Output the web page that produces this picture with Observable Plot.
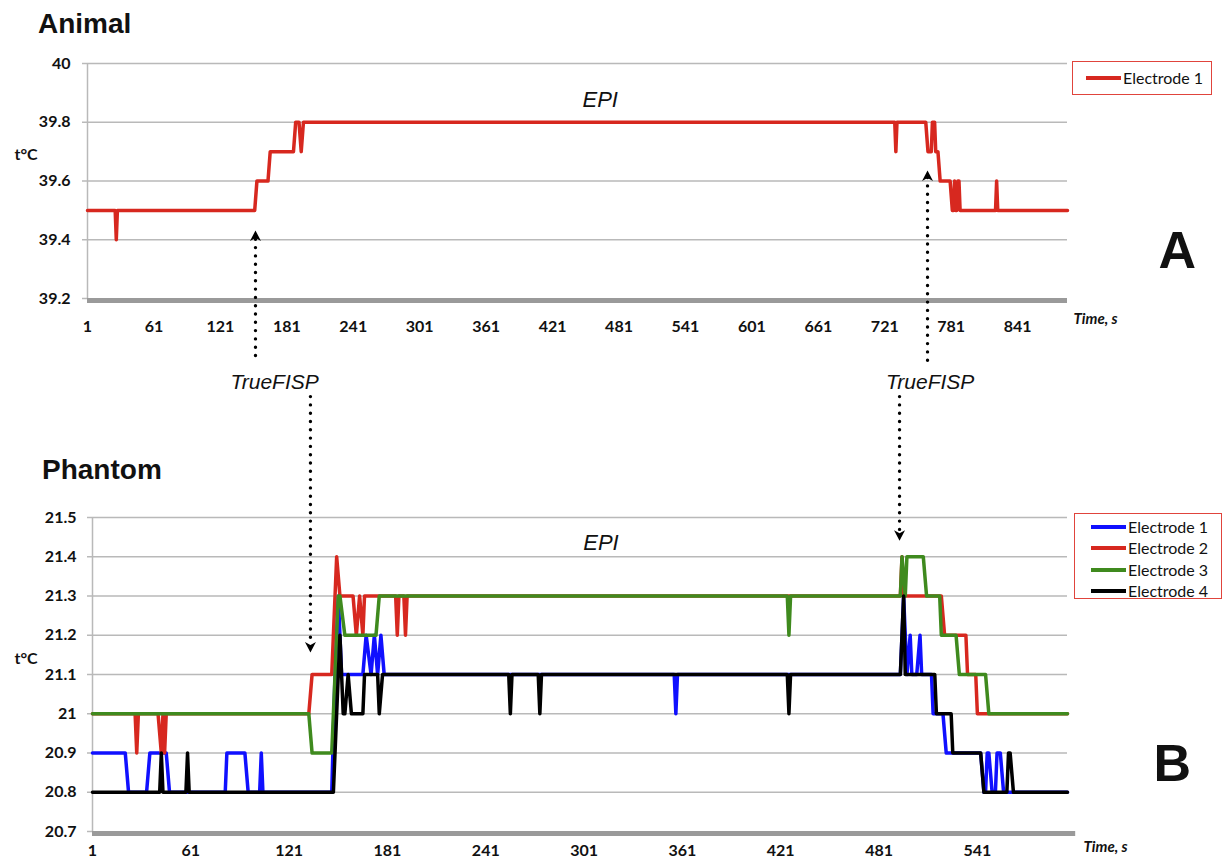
<!DOCTYPE html>
<html><head><meta charset="utf-8">
<script src="https://cdn.jsdelivr.net/npm/d3@7"></script>
<script src="https://cdn.jsdelivr.net/npm/@observablehq/plot@0.6"></script>
<style>
body{margin:0;background:#fff;}
#wrap{position:relative;width:1229px;height:860px;overflow:hidden;background:#fff;}
#wrap svg{position:absolute;left:0;}
.title{position:absolute;font:bold 28px "Liberation Sans",Arial,sans-serif;line-height:28px;color:#111;}
.legend{position:absolute;border:1.5px solid #e0443c;box-sizing:border-box;background:#fff;font:16px Lato,sans-serif;color:#111;z-index:2;}
.row{position:absolute;display:flex;align-items:center;height:20px;line-height:20px;white-space:nowrap;}
.sw{display:inline-block;width:35px;height:4px;margin-right:2px;}
</style></head><body><div id="wrap">
<div class="title" style="left:38px;top:10px">Animal</div>
<div class="title" style="left:42px;top:456px">Phantom</div>
</div>
<script>
// ---------- data ----------
const animalTime = [1,26,27,28,152,154,164,166,187,189,192,194,196,730,731,732,758,760,763,764,766,767,769,771,780,782,783,784,785,786,787,788,789,821,822,823,886];
const animalTemp = [39.5,39.5,39.4,39.5,39.5,39.6,39.6,39.7,39.7,39.8,39.8,39.7,39.8,39.8,39.7,39.8,39.8,39.7,39.7,39.8,39.8,39.7,39.7,39.6,39.6,39.5,39.5,39.6,39.5,39.5,39.6,39.6,39.5,39.5,39.6,39.5,39.5];

const phantomE1Time = [1,21,23,34,36,46,48,82,83,94,96,103,104,105,147,149,151,153,166,168,171,173,175,177,179,356,357,358,494,496,498,500,501,504,506,507,513,514,520,522,543,545,546,547,548,550,552,553,555,557,596];
const phantomE1Temp = [20.9,20.9,20.8,20.8,20.9,20.9,20.8,20.8,20.9,20.9,20.8,20.8,20.9,20.8,20.8,21.1,21.3,21.1,21.1,21.2,21.1,21.2,21.1,21.2,21.1,21.1,21.0,21.1,21.1,21.3,21.1,21.2,21.1,21.1,21.2,21.1,21.1,21.0,21.0,20.9,20.9,20.8,20.8,20.9,20.9,20.8,20.8,20.9,20.9,20.8,20.8];

const phantomE2Time = [1,27,28,29,41,43,44,45,46,133,135,147,150,152,160,162,164,166,167,186,187,188,191,192,193,494,495,496,519,521,534,535,540,541,596];
const phantomE2Temp = [21.0,21.0,20.9,21.0,21.0,20.9,21.0,20.9,21.0,21.0,21.1,21.1,21.4,21.3,21.3,21.2,21.3,21.2,21.3,21.3,21.2,21.3,21.3,21.2,21.3,21.3,21.4,21.3,21.3,21.2,21.2,21.1,21.1,21.0,21.0];

const phantomE3Time = [1,133,135,147,151,152,155,174,176,425,426,427,494,495,497,498,508,510,518,519,528,530,546,548,596];
const phantomE3Temp = [21.0,21.0,20.9,20.9,21.3,21.3,21.2,21.2,21.3,21.3,21.2,21.3,21.3,21.4,21.3,21.4,21.4,21.3,21.3,21.2,21.2,21.1,21.1,21.0,21.0];

const phantomE4Time = [1,42,43,44,58,59,60,148,152,154,155,157,159,166,167,175,176,178,255,256,257,273,274,275,425,426,427,494,496,497,515,516,525,526,543,545,559,560,561,563,596];
const phantomE4Temp = [20.8,20.8,20.9,20.8,20.8,20.9,20.8,20.8,21.2,21.0,21.0,21.1,21.0,21.0,21.1,21.1,21.0,21.1,21.1,21.0,21.1,21.1,21.0,21.1,21.1,21.0,21.1,21.1,21.3,21.1,21.1,21.0,21.0,20.9,20.9,20.8,20.8,20.9,20.9,20.8,20.8];

const animalSeries = ["Electrode 1"];
const phantomSeries = ["Electrode 1","Electrode 2","Electrode 3","Electrode 4"];
const animalColors = ["#d7281f"];
const phantomColors = ["#1010ff","#d7281f","#3f8a1e","#000000"];

const animalXTicks = [1,61,121,181,241,301,361,421,481,541,601,661,721,781,841];
const phantomXTicks = [1,61,121,181,241,301,361,421,481,541];
const animalYTicks = [39.2,39.4,39.6,39.8,40];
const phantomYTicks = [20.7,20.8,20.9,21.0,21.1,21.2,21.3,21.4,21.5];

// ---------- helpers ----------
const rows = (ts, vs, name) => ts.map((t, i) => ({t, v: vs[i], name}));
const animalData = rows(animalTime, animalTemp, animalSeries[0]);
const phantomData = [
  ...rows(phantomE1Time, phantomE1Temp, phantomSeries[0]),
  ...rows(phantomE2Time, phantomE2Temp, phantomSeries[1]),
  ...rows(phantomE3Time, phantomE3Temp, phantomSeries[2]),
  ...rows(phantomE4Time, phantomE4Temp, phantomSeries[3])
];
const fmt = d => String(Math.round(d * 10) / 10);
const head = {draw(ctx){ctx.moveTo(0,-6);ctx.lineTo(5.5,4.5);ctx.lineTo(0,1.5);ctx.lineTo(-5.5,4.5);ctx.closePath();}};
const gridStroke = "#b9b9b9";
const sans = "'Liberation Sans', Arial, sans-serif";
const tickFont = "Lato, 'Liberation Sans', sans-serif";

// ---------- Animal chart ----------
const topPlot = Plot.plot({
  width: 1229, height: 400,
  marginTop: 63, marginBottom: 102, marginLeft: 87, marginRight: 162,
  style: {background: "transparent", overflow: "visible", fontFamily: tickFont, color: "#111"},
  x: {domain: [1, 886], axis: null, label: null},
  y: {domain: [39.2, 40], axis: null, label: null},
  marks: [
    Plot.ruleY(animalYTicks.slice(1), {stroke: gridStroke, strokeWidth: 1.5}),
    Plot.ruleX([1], {stroke: gridStroke, strokeWidth: 1.5}),
    Plot.axisY({ticks: animalYTicks, label: null, tickSize: 5, tickPadding: 12, stroke: gridStroke, strokeWidth: 1.5, tickFormat: fmt, fontSize: 16, fontWeight: "bold", fill: "#111"}),
    Plot.axisX({ticks: animalXTicks, label: null, tickSize: 0, tickPadding: 22, tickFormat: d => String(d), fontSize: 16, fontWeight: "bold", fill: "#111"}),
    Plot.ruleY([39.2], {stroke: "#9a9a9a", strokeWidth: 5, dy: 2}),
    Plot.line(animalData, {x: "t", y: "v", stroke: animalColors[0], strokeWidth: 3.5}),
    Plot.text(["t°C"], {text: d => d, frameAnchor: "left", dx: -73, dy: -26, textAnchor: "start", fontSize: 16, fontWeight: "bold"}),
    Plot.text(["Time, s"], {text: d => d, frameAnchor: "bottom-right", dx: 6, dy: 25, textAnchor: "start", fontSize: 15, fontWeight: "bold", fontStyle: "italic"}),
    Plot.text(["A"], {text: d => d, frameAnchor: "right", dx: 91, dy: 70, textAnchor: "start", fontSize: 52, fontWeight: "bold", fontFamily: sans}),
    Plot.text(["EPI"], {text: d => d, x: 464, y: 39.877, fontSize: 22, fontStyle: "italic", fontFamily: sans}),
    Plot.text(["TrueFISP", "TrueFISP"], {text: d => d, x: [170, 762], y: [38.916, 38.916], fontSize: 21, fontStyle: "italic", fontFamily: sans}),
    Plot.link([0, 1], {x1: [152.7, 759.6], x2: [152.7, 759.6], y1: [39.006, 38.99], y2: [39.411, 39.615], stroke: "#000", strokeWidth: 3.4, strokeDasharray: "0 8.3", strokeLinecap: "round"}),
    Plot.dot([0, 1], {x: [152.7, 759.6], y: [39.4315, 39.636], symbol: head, fill: "#000", stroke: "none", dy: 6})
  ]
});
topPlot.style.top = "0px";

// ---------- Phantom chart ----------
const botPlot = Plot.plot({
  width: 1229, height: 468,
  marginTop: 125, marginBottom: 29, marginLeft: 92, marginRight: 162,
  style: {background: "transparent", overflow: "visible", fontFamily: tickFont, color: "#111"},
  x: {domain: [1, 596], axis: null, label: null},
  y: {domain: [20.7, 21.5], axis: null, label: null},
  color: {domain: phantomSeries, range: phantomColors},
  marks: [
    Plot.ruleY(phantomYTicks.slice(1), {stroke: gridStroke, strokeWidth: 1.5}),
    Plot.ruleX([1], {stroke: gridStroke, strokeWidth: 1.5}),
    Plot.axisY({ticks: phantomYTicks, label: null, tickSize: 5, tickPadding: 11, stroke: gridStroke, strokeWidth: 1.5, tickFormat: fmt, fontSize: 16, fontWeight: "bold", fill: "#111"}),
    Plot.axisX({ticks: phantomXTicks, label: null, tickSize: 0, tickPadding: 13, tickFormat: d => String(d), fontSize: 16, fontWeight: "bold", fill: "#111"}),
    Plot.ruleY([20.7], {stroke: "#9a9a9a", strokeWidth: 5, dy: 2, x1: 1, x2: 601}),
    Plot.line(phantomData, {x: "t", y: "v", z: "name", stroke: "name", strokeWidth: 3.5}),
    Plot.text(["t°C"], {text: d => d, frameAnchor: "left", dx: -78, dy: -16, textAnchor: "start", fontSize: 16, fontWeight: "bold"}),
    Plot.text(["Time, s"], {text: d => d, frameAnchor: "bottom-right", dx: 16, dy: 20, textAnchor: "start", fontSize: 15, fontWeight: "bold", fontStyle: "italic"}),
    Plot.text(["B"], {text: d => d, frameAnchor: "right", dx: 86, dy: 90, textAnchor: "start", fontSize: 52, fontWeight: "bold", fontFamily: sans}),
    Plot.text(["EPI"], {text: d => d, x: 311.3, y: 21.434, fontSize: 22, fontStyle: "italic", fontFamily: sans}),
    Plot.link([0, 1], {x1: [134, 493.5], x2: [134, 493.5], y1: [21.808, 21.808], y2: [21.174, 21.459], stroke: "#000", strokeWidth: 3.4, strokeDasharray: "0 8.3", strokeLinecap: "round"}),
    Plot.dot([0, 1], {x: [134, 493.5], y: [21.156, 21.441], symbol: head, rotate: 180, fill: "#000", stroke: "none", dy: -6})
  ]
});
botPlot.style.top = "392px";

const wrap = document.getElementById("wrap");
wrap.appendChild(topPlot);
wrap.appendChild(botPlot);

// ---------- legends ----------
function legend(names, colors, box, swLeft, rowCenters) {
  const div = document.createElement("div");
  div.className = "legend";
  Object.assign(div.style, {left: box[0] + "px", top: box[1] + "px", width: box[2] + "px", height: box[3] + "px"});
  names.forEach((n, i) => {
    const r = document.createElement("div");
    r.className = "row";
    r.style.left = swLeft + "px";
    r.style.top = (rowCenters[i] - 10) + "px";
    const sw = document.createElement("span");
    sw.className = "sw";
    sw.style.background = colors[i];
    r.appendChild(sw);
    r.appendChild(document.createTextNode(n));
    div.appendChild(r);
  });
  wrap.appendChild(div);
}
legend(animalSeries, animalColors, [1072, 61, 140, 34], 13, [16]);
legend(phantomSeries, phantomColors, [1074, 513, 148, 86], 16, [12.5, 34, 55.5, 77]);
</script>
</body></html>
